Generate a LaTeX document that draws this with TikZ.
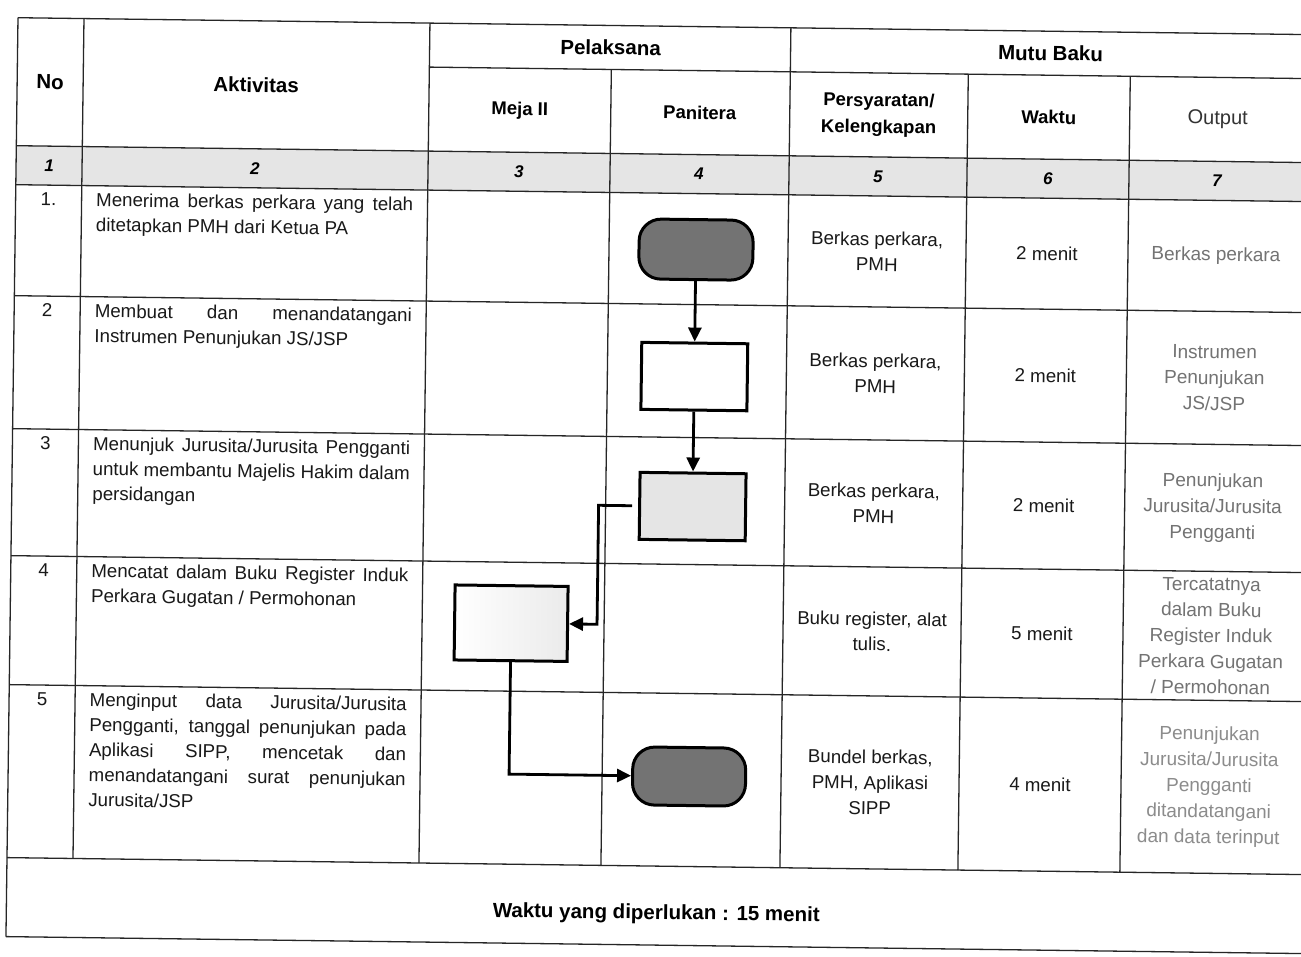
\documentclass[tikz,border=0pt]{standalone}
\usepackage{fontspec}
\setmainfont{Liberation Sans}
\usetikzlibrary{arrows.meta,calc}
\tikzset{
  grid/.style={line width=1.3pt, draw=black!85},
  body/.style={font=\fontsize{18.7}{25.5}\selectfont, align=center, inner sep=0pt, text=black!90},
  hdr/.style={font=\fontsize{20.5}{24}\selectfont\bfseries, inner sep=0pt},
  sub/.style={font=\fontsize{18.5}{26.5}\selectfont\bfseries, align=center, inner sep=0pt},
  numcell/.style={font=\fontsize{17}{20}\selectfont\bfseries\itshape, inner sep=0pt},
  outp/.style={font=\fontsize{19}{25.8}\selectfont, align=center, inner sep=0pt, text=black!55},
  act/.style={font=\fontsize{18.7}{25}\selectfont, align=left, anchor=north west, inner sep=0pt, text=black!90},
  rowno/.style={font=\fontsize{18.7}{25}\selectfont, anchor=north, inner sep=0pt, text=black!90},
  term/.style={draw, line width=3pt, rounded corners=22pt, minimum width=114pt, minimum height=60pt, fill=black!55, inner sep=0pt},
  proc/.style={draw, line width=3pt, minimum width=106pt, minimum height=67pt, inner sep=0pt},
  arr/.style={line width=2.8pt, -{Triangle[length=14pt,width=13pt]}},
}
\newcommand{\jl}[1]{\makebox[317pt][s]{#1}}
\begin{document}
\begin{tikzpicture}[x=1pt,y=-1pt]
\useasboundingbox (0,0) rectangle (1301,956);
\fill[white] (0,0) rectangle (1301,956);
\clip (0,0) rectangle (1301,956);
\begin{scope}[rotate around={-0.75:(650,478)}, transform shape]
  % number row background
  \fill[black!10] (12,154) rectangle (1330,193);
  % horizontal lines
  \draw[grid] (12,26) -- (1330,26);
  \draw[grid] (424,70) -- (1330,70);
  \foreach \yy in {154,193,304,437,564,693,866,945}
    \draw[grid] (12,\yy) -- (1330,\yy);
  % vertical lines
  \draw[grid] (12,26) -- (12,945);
  \draw[grid] (78,26) -- (78,866);
  \draw[grid] (424,26) -- (424,866);
  \draw[grid] (606,70) -- (606,866);
  \draw[grid] (785,26) -- (785,866);
  \draw[grid] (963,70) -- (963,866);
  \draw[grid] (1125,70) -- (1125,866);

  % headers
  \node[hdr] (hNo) at (45,90) {No};
  \node[hdr] (hAkt) at (251,90) {Aktivitas};
  \node[hdr] (hPel) at (605,48) {Pelaksana};
  \node[hdr] (hMutu) at (1045,48) {Mutu Baku};
  \node[sub] (hMeja) at (515,112) {Meja II};
  \node[sub] (hPan) at (695,112) {Panitera};
  \node[sub] (hPers) at (874,112) {Persyaratan/\\Kelengkapan};
  \node[sub] (hWaktu) at (1044,112) {Waktu};
  \node[font=\fontsize{20}{24}\selectfont, inner sep=0pt, text=black!80] (hOut) at (1213,112) {Output};

  % number row
  \node[numcell] (n1) at (45,173.5) {1};
  \node[numcell] (n2) at (251,173.5) {2};
  \node[numcell] (n3) at (515,173.5) {3};
  \node[numcell] (n4) at (695,173.5) {4};
  \node[numcell] (n5) at (874,173.5) {5};
  \node[numcell] (n6) at (1044,173.5) {6};
  \node[numcell] (n7) at (1213,173.5) {7};

  % row numbers
  \node[rowno] (r1) at (45,200) {1.};
  \node[rowno] (r2) at (45,311) {2};
  \node[rowno] (r3) at (45,444) {3};
  \node[rowno] (r4) at (45,571) {4};
  \node[rowno] (r5) at (45,700) {5};

  % activities
  \node[act] (a1) at (92.5,200) {\jl{Menerima berkas perkara yang telah}\\ditetapkan PMH dari Ketua PA};
  \node[act] (a2) at (92.5,311) {\jl{Membuat dan menandatangani}\\Instrumen Penunjukan JS/JSP};
  \node[act] (a3) at (92.5,444) {\jl{Menunjuk Jurusita/Jurusita Pengganti}\\\jl{untuk membantu Majelis Hakim dalam}\\persidangan};
  \node[act] (a4) at (92.5,571) {\jl{Mencatat dalam Buku Register Induk}\\Perkara Gugatan / Permohonan};
  \node[act] (a5) at (92.5,700) {\jl{Menginput data Jurusita/Jurusita}\\\jl{Pengganti, tanggal penunjukan pada}\\\jl{Aplikasi SIPP, mencetak dan}\\\jl{menandatangani surat penunjukan}\\Jurusita/JSP};

  % persyaratan
  \node[body] (p1) at (874,248.5) {Berkas perkara,\\PMH};
  \node[body] (p2) at (874,370.5) {Berkas perkara,\\PMH};
  \node[body] (p3) at (874,500.5) {Berkas perkara,\\PMH};
  \node[body] (p4) at (874,628.5) {Buku register, alat\\tulis.};
  \node[body] (p5) at (874,779.5) {Bundel berkas,\\PMH, Aplikasi\\SIPP};

  % waktu
  \node[body] (w1) at (1044,248.5) {2 menit};
  \node[body] (w2) at (1044,370.5) {2 menit};
  \node[body] (w3) at (1044,500.5) {2 menit};
  \node[body] (w4) at (1044,628.5) {5 menit};
  \node[body] (w5) at (1044,779.5) {4 menit};

  % output
  \node[outp] (o1) at (1213,248.5) {Berkas perkara};
  \node[outp] (o2) at (1213,370.5) {Instrumen\\Penunjukan\\JS/JSP};
  \node[outp] (o3) at (1213,500.5) {Penunjukan\\Jurusita/Jurusita\\Pengganti};
  \node[outp] (o4) at (1213,628.5) {Tercatatnya\\dalam Buku\\Register Induk\\Perkara Gugatan\\/ Permohonan};
  \node[outp, text=black!45] (o5) at (1213,779.5) {Penunjukan\\Jurusita/Jurusita\\Pengganti\\ditandatangani\\dan data terinput};

  % footer
  \node[hdr] (foot) at (662,914) {Waktu yang diperlukan : 15 menit};

  % flow
  \node[term] (t1) at (693,249) {};
  \node[proc, fill=white] (b2) at (693,376) {};
  \node[proc, fill=black!10] (b3) at (693,506) {};
  \node[proc, minimum width=113pt, minimum height=75pt, left color=white, right color=black!8] (b4) at (513,625) {};
  \node[term, minimum width=113pt, minimum height=58pt] (t5) at (693,776) {};
  \coordinate (k1) at (599,625);

  \draw[arr] (t1) -- (b2);
  \draw[arr] (b2) -- (b3);
  \draw[arr, shorten <=6pt] (b3.west) -| (k1) -- (b4.east);
  \draw[arr] (b4.south) |- (t5.west);
\end{scope}
\end{tikzpicture}
\end{document}
